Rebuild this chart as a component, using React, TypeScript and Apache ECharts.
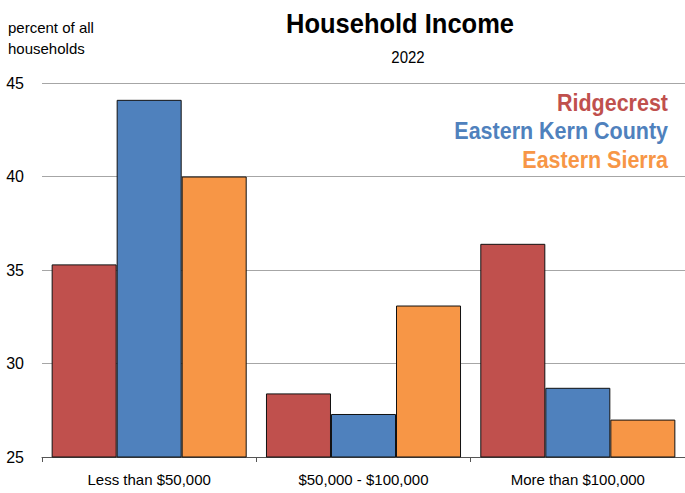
import React, { useEffect, useRef } from "react";
import * as echarts from "echarts";

const categories = ["Less than $50,000", "$50,000 - $100,000", "More than $100,000"];
const seriesNames = ["Ridgecrest", "Eastern Kern County", "Eastern Sierra"];
const ridgecrest = [35.3, 28.4, 36.4];
const easternKern = [44.1, 27.3, 28.7];
const easternSierra = [40.0, 33.1, 27.0];
const colors = ["#C0504D", "#4F81BD", "#F79646"];

export default function App() {
  const ref = useRef<HTMLDivElement>(null);
  useEffect(() => {
    document.body.style.margin = "0";
    const chart = echarts.init(ref.current!, null, { renderer: "svg" });
    const font = "'Liberation Sans', Arial, sans-serif";
    const values = [ridgecrest, easternKern, easternSierra];
    chart.setOption({
      animation: false,
      textStyle: { fontFamily: font },
      grid: { left: 42, width: 646, top: 83, height: 374, containLabel: false },
      graphic: [
        {
          type: "text",
          x: 400,
          y: 23,
          scaleY: 1.12,
          style: {
            text: "Household Income",
            font: `bold 25.5px ${font}`,
            fill: "#000",
            textAlign: "center",
            textVerticalAlign: "middle",
          },
        },
        {
          type: "text",
          x: 408,
          y: 57,
          scaleY: 1.1,
          style: {
            text: "2022",
            font: `15px ${font}`,
            fill: "#000",
            textAlign: "center",
            textVerticalAlign: "middle",
          },
        },
        {
          type: "text",
          left: 8,
          top: 17,
          style: {
            text: "percent of all\nhouseholds",
            font: `15px ${font}`,
            fill: "#000",
            lineHeight: 21,
          },
        },
        ...seriesNames.map((n, i) => ({
          type: "text",
          x: 668,
          y: 103 + i * 28.5,
          scaleY: 1.08,
          style: {
            text: n,
            font: `bold 21.5px ${font}`,
            fill: colors[i],
            textAlign: "right",
            textVerticalAlign: "middle",
          },
        })),
      ],
      xAxis: {
        type: "category",
        data: categories,
        axisLine: { show: true, lineStyle: { color: "#555", width: 1 } },
        axisTick: { show: true, length: 5, lineStyle: { color: "#555" } },
        axisLabel: { fontSize: 15, color: "#000", margin: 15, fontFamily: font },
      },
      yAxis: {
        type: "value",
        min: 25,
        max: 45,
        interval: 5,
        axisLine: { show: false },
        axisTick: { show: false },
        splitLine: { lineStyle: { color: "#A6A6A6", width: 1.2 } },
        axisLabel: { fontSize: 16, color: "#000", margin: 18, fontFamily: font },
      },
      series: seriesNames.map((n, i) => ({
        name: n,
        type: "bar",
        data: values[i],
        barCategoryGap: "9%",
        barGap: "0%",
        itemStyle: { color: colors[i], borderColor: "#111", borderWidth: 1 },
      })),
    });
    return () => chart.dispose();
  }, []);
  return <div ref={ref} style={{ width: 685, height: 493 }} />;
}
